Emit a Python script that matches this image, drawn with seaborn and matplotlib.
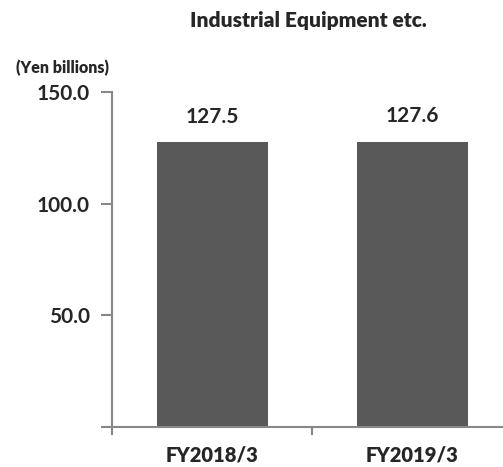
import matplotlib
matplotlib.use("Agg")
import matplotlib.pyplot as plt
import seaborn as sns
import pandas as pd

# Segment sales, yen billions
periods = ["FY2018/3", "FY2019/3"]
sales = [127.5, 127.6]
y_ticks = [0, 50, 100, 150]
y_tick_labels = ["", "50.0", "100.0", "150.0"]

sns.set_style("white")
plt.rcParams["font.family"] = ["Lato", "DejaVu Sans"]

df = pd.DataFrame({"period": periods, "sales": sales})

fig = plt.figure(figsize=(5.03, 4.67), dpi=100)
ax = fig.add_axes([112 / 503, 40 / 467, 400 / 503, 335 / 467])

sns.barplot(data=df, x="period", y="sales", color="#595959", width=0.555,
            saturation=1, ax=ax, edgecolor="none")

ax.set_xlim(-0.5, 1.5)
ax.set_ylim(0, 150)
ax.set_yticks(y_ticks)
ax.set_yticklabels(y_tick_labels, fontsize=15, fontweight="bold")
ax.set_xlabel("")
ax.set_ylabel("")

# category ticks sit on the boundaries between bars
ax.set_xticks([-0.5, 0.5, 1.5])
ax.set_xticklabels([])
ax.tick_params(axis="x", bottom=True, direction="out", length=6, width=1.5,
               color="#888888")
ax.tick_params(axis="y", left=True, direction="out", length=8, width=1.5,
               color="#888888", pad=8)
for i, p in enumerate(periods):
    ax.text(i, -12.5, p, ha="center", va="center", fontsize=14.5, fontweight="heavy")

for side in ["top", "right"]:
    ax.spines[side].set_visible(False)
for side in ["left", "bottom"]:
    ax.spines[side].set_color("#888888")
    ax.spines[side].set_linewidth(1.5)

for i, v in enumerate(sales):
    ax.text(i, v + 7.0, f"{v:.1f}", ha="center", va="bottom", fontsize=15,
            fontweight="bold")

fig.text(308 / 503, 1 - 21 / 467, "Industrial Equipment etc.", ha="center",
         va="center", fontsize=15, fontweight="heavy")
fig.text(63 / 503, 1 - 68 / 467, "(Yen billions)", ha="center", va="center",
         fontsize=11.5, fontweight="heavy")

fig.savefig("out.png", dpi=100, facecolor="white")
